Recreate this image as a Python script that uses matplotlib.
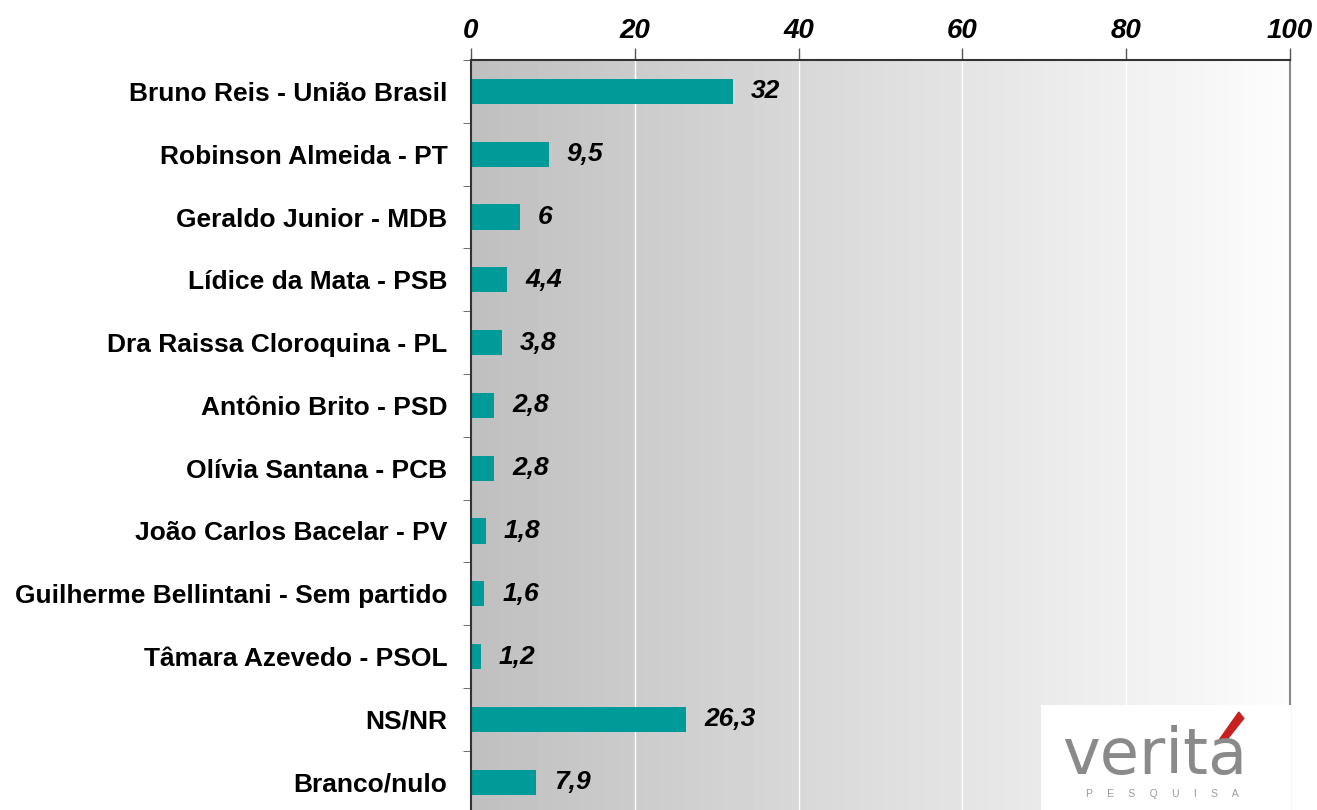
import numpy as np
import matplotlib.pyplot as plt
from matplotlib.patches import Rectangle, Polygon

plt.rcParams['font.family'] = ['Liberation Sans', 'DejaVu Sans']

# ============================================================
# Data
# ============================================================
candidates = [
    "Bruno Reis - União Brasil",
    "Robinson Almeida - PT",
    "Geraldo Junior - MDB",
    "Lídice da Mata - PSB",
    "Dra Raissa Cloroquina - PL",
    "Antônio Brito - PSD",
    "Olívia Santana - PCB",
    "João Carlos Bacelar - PV",
    "Guilherme Bellintani - Sem partido",
    "Tâmara Azevedo - PSOL",
    "NS/NR",
    "Branco/nulo",
]
values = [32, 9.5, 6, 4.4, 3.8, 2.8, 2.8, 1.8, 1.6, 1.2, 26.3, 7.9]
x_ticks = [0, 20, 40, 60, 80, 100]

# ============================================================
# Plot
# ============================================================
fig = plt.figure(figsize=(13.17, 8.10), dpi=100)
ax = fig.add_axes([0.3576, -0.0044, 0.6219, 0.9303])

y = np.arange(len(candidates))

# gradient background
grad = np.linspace(0.75, 0.99, 256).reshape(1, -1)
ax.imshow(grad, cmap="gray", vmin=0, vmax=1, aspect="auto",
          extent=[0, 100, len(candidates) - 0.5, -0.5], zorder=0)

for xt in x_ticks[1:-1]:
    ax.axvline(xt, color="white", linewidth=1, zorder=1)

ax.barh(y, values, height=0.4, color="#009a98", zorder=2)

for yi, v in zip(y, values):
    txt = f"{v:g}".replace(".", ",")
    ax.text(v + 2.2, yi, txt, va="center", ha="left",
            fontsize=19, fontweight="bold", fontstyle="italic", zorder=3)

ax.set_xlim(0, 100)
ax.set_ylim(len(candidates) - 0.5, -0.5)

ax.xaxis.tick_top()
ax.set_xticks(x_ticks)
ax.set_xticklabels([str(t) for t in x_ticks], fontsize=20,
                   fontweight="bold", fontstyle="italic")
ax.tick_params(axis="x", length=9, width=1, color="#555555", pad=2.5)

ax.set_yticks(y)
ax.set_yticklabels(candidates, fontsize=19, fontweight="bold")
ax.set_yticks(np.arange(len(candidates) + 1) - 0.5, minor=True)
ax.tick_params(axis="y", which="major", length=0, pad=17)
ax.tick_params(axis="y", which="minor", length=6, color="#555555")

for s in ["top", "left"]:
    ax.spines[s].set_color("#333333")
    ax.spines[s].set_linewidth(1.5)
ax.spines["right"].set_color("#888888")
ax.spines["right"].set_linewidth(1.5)
ax.spines["bottom"].set_visible(False)

# logo (veritá pesquisa)
logo = fig.add_axes([0.7905, 0.0, 0.19, 0.13])
logo.set_xlim(0, 1)
logo.set_ylim(0, 1)
logo.axis("off")
logo.add_patch(Rectangle((0, 0), 1, 1, color="white"))
logo.text(0.452, 0.34, "verita", ha="center", va="baseline", fontsize=46,
          color="#8a8a8a", family="DejaVu Sans Condensed")
logo.add_patch(Polygon([(0.71, 0.66), (0.74, 0.66), (0.81, 0.87), (0.79, 0.93)],
                       closed=True, color="#c8201e"))
logo.text(0.485, 0.15, "P     E     S     Q     U     I     S     A",
          ha="center", va="center", fontsize=7.5, color="#9a9a9a")

fig.savefig("out.png", dpi=100)
